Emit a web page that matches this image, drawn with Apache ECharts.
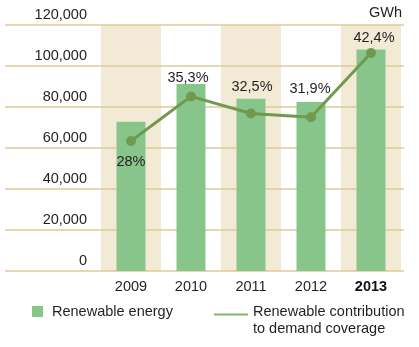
<!DOCTYPE html>
<html>
<head>
<meta charset="utf-8">
<script src="https://cdn.jsdelivr.net/npm/echarts@6/dist/echarts.min.js"></script>
<style>
  html, body { margin: 0; padding: 0; background: #ffffff; }
  #chart { width: 419px; height: 347px; }
</style>
</head>
<body>
<div id="chart"></div>
<script>
// Yearly renewable generation (GWh) and its share of demand coverage (%)
const years = ['2009', '2010', '2011', '2012', '2013'];
const renewableGWh = [72800, 91200, 84000, 82500, 108100];
const coveragePct = [28, 35.3, 32.5, 31.9, 42.4];
const gwhTicks = [0, 20000, 40000, 60000, 80000, 100000, 120000];

// where each percentage label sits relative to its point
const pctLabelPlacement = [
  { position: 'bottom', distance: 9, offset: [0, 0] },
  { position: 'top', distance: 6, offset: [-3, 0] },
  { position: 'top', distance: 14, offset: [1, 0] },
  { position: 'top', distance: 16, offset: [-1, 0] },
  { position: 'top', distance: 3, offset: [3, 0] }
];

const FONT = '"Liberation Sans", Arial, Helvetica, sans-serif';
const FONT_SIZE = 14.5;
const TEXT_COLOR = '#231f20';
const BAR_NAME = 'Renewable energy';
const LINE_NAME = 'Renewable contribution\nto demand coverage';

// legend stroke for the line: a thin bar at the top of a taller (empty) box,
// so it lines up with the first row of the two-line caption
const LINE_LEGEND_ICON = 'path://M0,0 L34,0 L34,2 L0,2 Z M0,12.99 L34,12.99 L34,13 L0,13 Z';

const fmtNumber = v => String(v).replace(/\B(?=(\d{3})+(?!\d))/g, ',');
const fmtPct = v => String(v).replace('.', ',') + '%';

const chart = echarts.init(document.getElementById('chart'), null, { renderer: 'canvas' });

chart.setOption({
  animation: false,
  backgroundColor: '#ffffff',
  textStyle: { fontFamily: FONT },
  title: {
    text: 'GWh',
    right: 17,
    top: 5,
    padding: 0,
    textStyle: { fontFamily: FONT, fontSize: FONT_SIZE, fontWeight: 'normal', color: TEXT_COLOR }
  },
  legend: [
    {
      data: [BAR_NAME],
      left: 32,
      top: 304,
      padding: 0,
      icon: 'rect',
      itemWidth: 11,
      itemHeight: 11,
      textStyle: { fontFamily: FONT, fontSize: FONT_SIZE, color: TEXT_COLOR, padding: [0, 0, 0, 4] }
    },
    {
      data: [{ name: LINE_NAME, itemStyle: { color: '#86b56a' } }],
      left: 214,
      top: 303,
      padding: 0,
      icon: LINE_LEGEND_ICON,
      itemWidth: 34,
      itemHeight: 13,
      textStyle: { fontFamily: FONT, fontSize: FONT_SIZE, color: TEXT_COLOR, lineHeight: 17 }
    }
  ],
  grid: [
    { left: 101, right: 18, top: 25, bottom: 76 },
    { left: 5, right: 15, top: 25, bottom: 76 }
  ],
  xAxis: [
    {
      type: 'category',
      gridIndex: 0,
      data: years,
      z: 0,
      axisLine: { show: false },
      axisTick: { show: false },
      splitArea: { show: true, interval: 0, areaStyle: { color: ['#f3ead6', 'rgba(255,255,255,0)'] } },
      axisLabel: {
        interval: 0,
        margin: 8,
        fontFamily: FONT,
        fontSize: FONT_SIZE,
        color: TEXT_COLOR,
        formatter: v => v === '2013' ? '{b|' + v + '}' : v,
        rich: { b: { fontFamily: FONT, fontSize: FONT_SIZE, fontWeight: 'bold', color: '#111' } }
      }
    },
    { type: 'value', gridIndex: 1, show: false, min: 0, max: 1 }
  ],
  yAxis: [
    { type: 'value', gridIndex: 0, min: 0, max: 120000, show: false, splitLine: { show: false } },
    {
      type: 'value',
      gridIndex: 0,
      min: 6.7,
      max: 47,
      show: false,
      splitLine: { show: false }
    },
    {
      type: 'value',
      gridIndex: 1,
      min: gwhTicks[0],
      max: gwhTicks[gwhTicks.length - 1],
      interval: gwhTicks[1] - gwhTicks[0],
      z: 1,
      axisLine: { show: false },
      axisTick: { show: false },
      splitLine: { show: true, lineStyle: { color: '#ddca98', width: 1.6 } },
      axisLabel: {
        inside: true,
        margin: 82,
        align: 'right',
        verticalAlign: 'bottom',
        padding: [0, 0, 3, 0],
        fontFamily: FONT,
        fontSize: FONT_SIZE,
        color: TEXT_COLOR,
        formatter: v => fmtNumber(v)
      }
    }
  ],
  series: [
    {
      name: BAR_NAME,
      type: 'bar',
      xAxisIndex: 0,
      yAxisIndex: 0,
      barWidth: 29,
      z: 2,
      itemStyle: { color: '#88c58a' },
      data: renewableGWh
    },
    {
      name: LINE_NAME,
      type: 'line',
      xAxisIndex: 0,
      yAxisIndex: 1,
      z: 3,
      symbol: 'circle',
      symbolSize: 10,
      lineStyle: { color: '#6f9a4f', width: 3 },
      itemStyle: { color: '#6f9a4f' },
      label: {
        show: true,
        fontFamily: FONT,
        fontSize: FONT_SIZE,
        color: TEXT_COLOR,
        formatter: p => fmtPct(p.value)
      },
      data: coveragePct.map((v, i) => ({ value: v, label: pctLabelPlacement[i] }))
    }
  ]
});
</script>
</body>
</html>
